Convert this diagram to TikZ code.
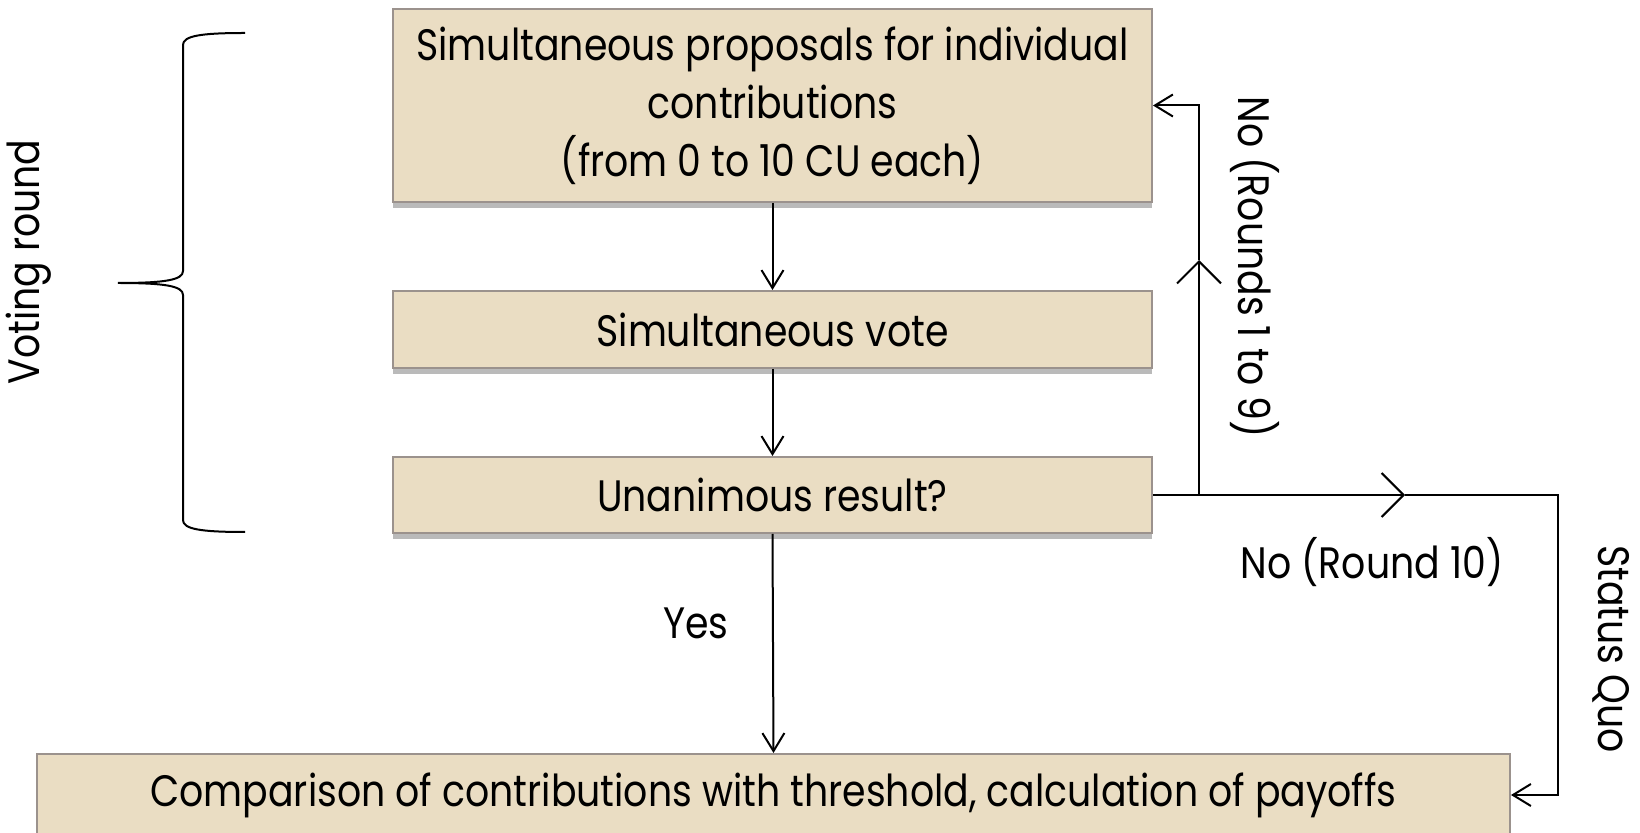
\documentclass[tikz,border=0pt]{standalone}
\usepackage{fontspec}
\setmainfont{Poppins}[FakeStretch=0.86]
\usetikzlibrary{arrows.meta,shadows}
\definecolor{boxfill}{RGB}{234,221,195}
\definecolor{boxline}{RGB}{155,146,141}
\tikzset{
  flowbox/.style={draw=boxline, line width=1pt, fill=boxfill, inner sep=0pt, align=center,
    font=\fontsize{22}{29}\selectfont,
    drop shadow={shadow xshift=0pt, shadow yshift=-3pt, fill=black!60, opacity=0.45}},
  conn/.style={line width=1pt, draw=black},
  endtip/.style={-{Straight Barb[length=9pt,width=11pt,line width=1pt]}},
  midtip/.style={-{Straight Barb[length=11pt,width=22pt,line width=1pt]}},
  lbl/.style={font=\fontsize{22}{29}\selectfont, inner sep=0pt}
}
\begin{document}
\begin{tikzpicture}[x=0.5pt, y=-0.5pt]
\useasboundingbox (0,0) rectangle (1640,833);
\node[flowbox, minimum width=379.5pt, minimum height=96.5pt] (b1) at (772.5,105.5)
  {Simultaneous proposals for individual\\contributions\\(from 0 to 10 CU each)};
\node[flowbox, minimum width=379.5pt, minimum height=38.5pt] (b2) at (772.5,329.5) {Simultaneous vote};
\node[flowbox, minimum width=379.5pt, minimum height=38pt] (b3) at (772.5,495) {Unanimous result?};
\node[flowbox, minimum width=736.5pt, minimum height=41pt] (b4) at (773.5,795)
  {Comparison of contributions with threshold, calculation of payoffs};

\coordinate (j1) at (1199,495);
\coordinate (m1) at (1199,260);
\coordinate (m2) at (1405,495);
\coordinate (c2) at (1558,495);
\coordinate (c3) at (1558,795);

\draw[conn, endtip] (b1.south) -- (b2.north);
\draw[conn, endtip] (b2.south) -- (b3.north);
\draw[conn, endtip] (b3.south) -- (b4.north);

\draw[conn, midtip] (b3.east) -- (j1) -- (m1);
\draw[conn, endtip] (m1) -- (j1 |- b1.east) -- (b1.east);
\draw[conn, midtip] (j1) -- (m2);
\draw[conn, endtip] (m2) -- (c2) -- (c3) -- (b4.east);

\draw[line width=1pt] (245,33) .. controls (200,33) and (183,36) .. (183,45)
  -- (183,271) .. controls (183,280) and (165,283) .. (118,283)
  .. controls (165,283) and (183,286) .. (183,295)
  -- (183,520) .. controls (183,529) and (200,532) .. (245,532);

\node[lbl, rotate=90] (vr) at (29,262) {Voting round};
\node[lbl, rotate=-90] (n19) at (1255,267) {No (Rounds 1 to 9)};
\node[lbl] (n10) at (1372,562) {No (Round 10)};
\node[lbl, rotate=-90] (sq) at (1611,649) {Status Quo};
\node[lbl] (yes) at (696,623) {Yes};
\end{tikzpicture}
\end{document}
